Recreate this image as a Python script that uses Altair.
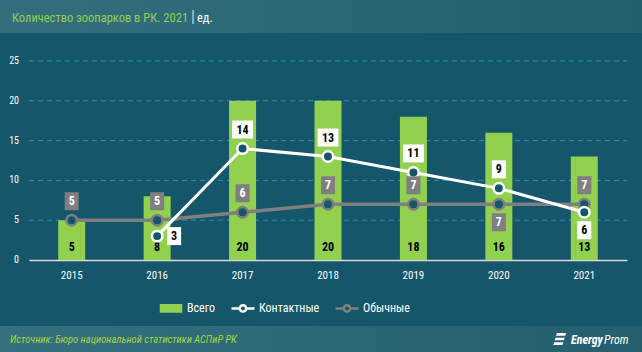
import altair as alt
import pandas as pd

# ---- data ----
years = ["2015", "2016", "2017", "2018", "2019", "2020", "2021"]
total = [5, 8, 20, 20, 18, 16, 13]
contact = [None, 3, 14, 13, 11, 9, 6]
ordinary = [5, 5, 6, 7, 7, 7, 7]
series = ["Всего", "Контактные", "Обычные"]
y_ticks = [0, 5, 10, 15, 20, 25]
title_main = ["Количество зоопарков в РК. 2021"]
title_sep = ["|"]
title_unit = ["ед."]
source_txt = ["Источник: Бюро национальной статистики АСПиР РК"]
brand_a = ["Energy"]
brand_b = ["Prom"]

# ---- style ----
BG = "#15566a"
GREEN = "#92d050"
GRAY = "#7f7f7f"
WHITE = "#ffffff"
GRID = "#2f8fb3"
FONT = "Roboto Condensed, Liberation Sans Narrow, Roboto, sans-serif"
W, H = 598, 199
PL, PT, PR, PB = 29, 61, 15, 92
FULL_W, FULL_H = 642, 352

BOX2 = "M-1,-0.857H1V0.857H-1Z"
BOX1 = "M-0.667,-0.857H0.667V0.857H-0.667Z"
LEG_RECT = "M-0.87,-0.28H0.87V0.28H-0.87Z"
LEG_LINE = "M-1,0H-0.28M0.28,0H1M-0.28,0A0.28,0.28 0 1,1 0.28,0A0.28,0.28 0 1,1 -0.28,0Z"
LOGO = "M-0.5,-1H1L0.85,-0.55H-0.65Z M-0.72,-0.22H0.78L0.63,0.22H-0.87Z M-0.95,0.55H0.55L0.4,1H-1.1Z"

df_total = pd.DataFrame({"year": years, "v": total})
df_contact = pd.DataFrame({"year": years, "v": contact}).dropna()
df_ord = pd.DataFrame({"year": years, "v": ordinary})
df_leg = pd.DataFrame({"s": series, "v": [None] * len(series)})
df_ticks = pd.DataFrame({"v": y_ticks})

x_scale = alt.Scale(domain=years, paddingInner=0, paddingOuter=0)
y_scale = alt.Scale(domain=[0, 25], nice=False)

x_axis_enc = alt.X("year:O", scale=x_scale, title=None, axis=alt.Axis(labelAngle=0))
x_enc = alt.X("year:O", scale=x_scale, title=None)
y_enc = alt.Y("v:Q", scale=y_scale, title=None, axis=None)


def deco_rect(y0, y1, c0, c1):
    return alt.Chart(pd.DataFrame({"a": [0]})).mark_rect(
        fill=alt.LinearGradient(gradient="linear", x1=0, x2=1, y1=0, y2=0,
                                stops=[alt.GradientStop(color=c0, offset=0),
                                       alt.GradientStop(color=c1, offset=1)])
    ).encode(x=alt.value(-PL), x2=alt.value(FULL_W - PL),
             y=alt.value(y0 - PT), y2=alt.value(y1 - PT))


def deco_text(txt, x, y, color, size, weight="normal", style="normal", font=FONT):
    return alt.Chart(pd.DataFrame({"t": txt})).mark_text(
        align="left", baseline="middle", color=color, fontSize=size,
        fontWeight=weight, fontStyle=style, font=font
    ).encode(x=alt.value(x - PL), y=alt.value(y - PT), text="t:N")


def label_layers(df, box, txt, dx=0, dy=0):
    base = alt.Chart(df).encode(x=x_enc, y=y_enc)
    two = base.transform_filter("datum.v >= 10").mark_point(
        shape=BOX2, size=441, filled=True, fill=box, opacity=1, strokeWidth=0,
        xOffset=dx, yOffset=dy)
    one = base.transform_filter("datum.v < 10").mark_point(
        shape=BOX1, size=441, filled=True, fill=box, opacity=1, strokeWidth=0,
        xOffset=dx, yOffset=dy)
    t = base.mark_text(color=txt, font=FONT, fontSize=12, fontWeight="bold",
                       baseline="middle", dx=dx, dy=dy).encode(
        text=alt.Text("v:Q", format="d"))
    return [two, one, t]


header = deco_rect(0, 33, "#356f7e", "#21606f")
footer = deco_rect(326, 352, "#34707f", "#255f6e")

# y grid and tick labels drawn from the tick values through the y scale
grid = alt.Chart(df_ticks).transform_filter("datum.v > 0").mark_rule(
    color=GRID, strokeDash=[5, 4], strokeWidth=1
).encode(y=y_enc, x=alt.value(0), x2=alt.value(W))
ylab = alt.Chart(df_ticks).mark_text(
    align="right", baseline="middle", color=WHITE, font=FONT, fontSize=10
).encode(y=y_enc, x=alt.value(-10), text=alt.Text("v:Q", format="d"))

bars = alt.Chart(df_total).mark_bar(size=27, color=GREEN).encode(x=x_axis_enc, y=y_enc)
bar_lbl = alt.Chart(df_total).mark_text(
    color="#000000", font=FONT, fontSize=12, fontWeight="bold", baseline="middle", dy=-13
).encode(x=x_enc, y=alt.Y(datum=0, scale=y_scale, axis=None), text=alt.Text("v:Q", format="d"))

line_ord = alt.Chart(df_ord).mark_line(color=GRAY, strokeWidth=3.5).encode(x=x_enc, y=y_enc)
line_con = alt.Chart(df_contact).mark_line(color=WHITE, strokeWidth=3).encode(x=x_enc, y=y_enc)
pts_ord = alt.Chart(df_ord).mark_point(filled=True, fill=BG, stroke=GRAY, strokeWidth=2.5,
                                       size=110, opacity=1).encode(x=x_enc, y=y_enc)
pts_con = alt.Chart(df_contact).mark_point(filled=True, fill=BG, stroke=WHITE, strokeWidth=2.5,
                                           size=110, opacity=1).encode(x=x_enc, y=y_enc)

con_above = df_contact[df_contact["year"].isin(["2017", "2018", "2019", "2020"])]
con_right = df_contact[df_contact["year"].isin(["2016"])]
con_below = df_contact[df_contact["year"].isin(["2021"])]
ord_above = df_ord[~df_ord["year"].isin(["2020"])]
ord_below = df_ord[df_ord["year"].isin(["2020"])]

lbls = []
lbls += label_layers(ord_above, GRAY, WHITE, dy=-19)
lbls += label_layers(ord_below, GRAY, WHITE, dy=18)
lbls += label_layers(con_above, WHITE, "#000000", dy=-19)
lbls += label_layers(con_right, WHITE, "#000000", dx=17)
lbls += label_layers(con_below, WHITE, "#000000", dy=18)

leg = alt.Legend(title=None, orient="none", legendX=129, legendY=234, direction="horizontal",
                 labelColor=WHITE, labelFont=FONT, labelFontSize=12, symbolSize=529,
                 symbolStrokeWidth=2.5, labelOffset=3, columnPadding=10, padding=0)
legend_layer = alt.Chart(df_leg).mark_point(filled=True, opacity=1, strokeWidth=2.5).encode(
    y=y_enc,
    shape=alt.Shape("s:N", scale=alt.Scale(domain=series, range=[LEG_RECT, LEG_LINE, LEG_LINE]), legend=leg),
    fill=alt.Fill("s:N", scale=alt.Scale(domain=series, range=[GREEN, BG, BG]), legend=leg),
    stroke=alt.Stroke("s:N", scale=alt.Scale(domain=series, range=[GREEN, WHITE, GRAY]), legend=leg),
)

t1 = deco_text(title_main, 12, 18, GREEN, 12.5)
t2 = deco_text(title_sep, 191, 17, "#c8d6dc", 16)
t3 = deco_text(title_unit, 197, 18, WHITE, 12.5)
src = deco_text(source_txt, 10, 340, "#a6d53c", 10.5, style="italic")
logo = alt.Chart(pd.DataFrame({"a": [0]})).mark_point(
    shape=LOGO, size=150, filled=True, fill=WHITE, opacity=1, strokeWidth=0
).encode(x=alt.value(560 - PL), y=alt.value(339 - PT))
b1 = deco_text(brand_a, 571, 340, WHITE, 12, weight="bold", style="italic")
b2 = deco_text(brand_b, 604, 340, WHITE, 12, style="italic")

chart = alt.layer(
    header, footer, grid, ylab, bars, bar_lbl, line_ord, line_con, pts_ord, pts_con,
    *lbls, legend_layer, t1, t2, t3, src, logo, b1, b2
).properties(
    width=W, height=H,
    autosize=alt.AutoSizeParams(type="none"),
    padding={"left": PL, "top": PT, "right": PR, "bottom": PB},
    background=BG,
).configure_view(
    stroke=None
).configure_axisX(
    labelColor=WHITE, labelFont=FONT, labelFontSize=11, labelPadding=9, ticks=False,
    domain=True, domainColor="#d9d9d9", domainWidth=1.5, grid=False
)

chart.save("out.html", embed_options={"renderer": "svg", "actions": False})
